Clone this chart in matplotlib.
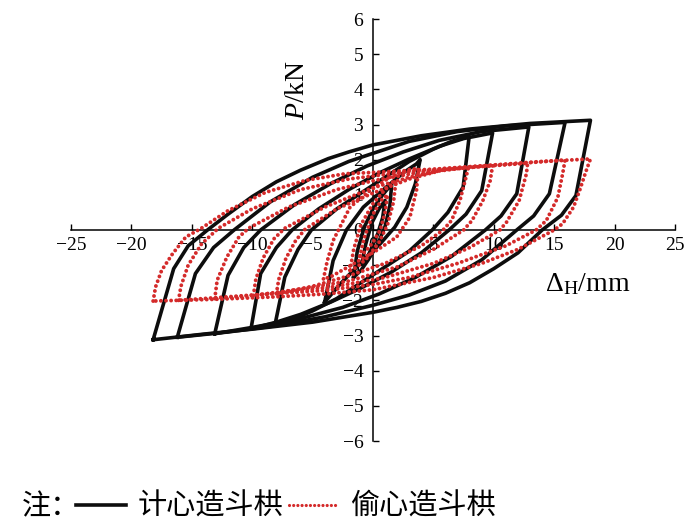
import matplotlib
matplotlib.use('Agg')
import matplotlib.pyplot as plt
from matplotlib.lines import Line2D

# hysteresis loops: (displacement mm, load kN)
# each loop: negative peak -> up to positive peak -> back down to negative peak

# 计心造斗栱 (black, solid)
jx1 = [(-0.93, -0.96), (-0.6, -0.4), (-0.1, 0.2), (0.5, 0.6), (1.0, 0.84),
       (0.8, 0.35), (0.4, -0.1), (-0.1, -0.5), (-0.5, -0.8)]
jx2 = [(-1.6, -1.34), (-1.3, -0.6), (-0.7, 0.1), (0.0, 0.6), (0.8, 1.0), (1.55, 1.31),
       (1.4, 0.7), (1.0, 0.1), (0.4, -0.4), (-0.4, -0.85), (-1.0, -1.15)]
jx4 = [(-4.0, -2.05), (-3.3, -0.87), (-2.2, 0.0), (-0.8, 0.65), (1.1, 1.22), (2.6, 1.65),
       (3.6, 1.88), (3.9, 2.0),
       (3.5, 1.31), (2.8, 0.65), (1.8, 0.08), (0.6, -0.39), (-1.1, -0.96), (-2.7, -1.53)]
jx8 = [(-8.1, -2.67), (-7.3, -1.34), (-6.2, -0.55), (-5.1, 0.0), (-3.0, 0.6), (-1.0, 1.05),
       (1.0, 1.5), (3.0, 1.95), (5.0, 2.3), (6.5, 2.52), (7.96, 2.66),
       (7.46, 1.22), (6.2, 0.5), (4.9, 0.0), (3.0, -0.6), (1.0, -1.05), (-1.0, -1.5),
       (-3.0, -1.95), (-5.0, -2.3), (-6.5, -2.52)]
jx10 = [(-10.1, -2.81), (-9.3, -1.24), (-8.0, -0.5), (-6.7, 0.0), (-4.5, 0.6), (-2.0, 1.15),
        (0.5, 1.62), (3.0, 2.02), (5.5, 2.38), (7.5, 2.6), (9.9, 2.76),
        (9.0, 1.12), (7.7, 0.45), (6.3, 0.0), (4.0, -0.65), (1.5, -1.2), (-1.0, -1.65),
        (-3.5, -2.05), (-6.0, -2.4), (-8.0, -2.62)]
jx13 = [(-13.1, -2.95), (-12.0, -1.29), (-10.7, -0.5), (-9.3, 0.0), (-6.5, 0.72), (-3.5, 1.32),
        (-0.5, 1.82), (2.5, 2.22), (5.5, 2.55), (9.0, 2.8), (12.9, 2.93),
        (11.9, 1.03), (10.6, 0.4), (9.3, 0.0), (6.5, -0.75), (3.5, -1.35), (0.5, -1.82),
        (-2.5, -2.2), (-6.0, -2.52), (-10.0, -2.77)]
jx16 = [(-16.2, -3.05), (-14.7, -1.24), (-13.2, -0.5), (-11.5, 0.0), (-8.5, 0.8), (-5.0, 1.5),
        (-2.0, 1.95), (0.0, 2.18), (3.0, 2.52), (7.0, 2.8), (11.0, 2.96), (15.9, 3.06),
        (14.6, 1.03), (13.3, 0.4), (11.9, 0.0), (9.0, -0.85), (6.0, -1.45), (3.0, -1.85),
        (0.0, -2.14), (-4.0, -2.47), (-8.0, -2.72), (-12.0, -2.9)]
jx18 = [(-18.2, -3.12), (-16.5, -1.1), (-15.3, -0.45), (-13.7, 0.0), (-12.0, 0.45), (-10.0, 0.95),
        (-8.0, 1.37), (-6.0, 1.7), (-3.7, 2.03), (-2.0, 2.22), (0.0, 2.42), (4.0, 2.68),
        (8.0, 2.87), (13.0, 3.03), (18.0, 3.12),
        (16.8, 0.98), (15.6, 0.42), (14.0, 0.0), (12.0, -0.65), (10.0, -1.1), (8.0, -1.5),
        (6.0, -1.8), (4.0, -2.03), (2.0, -2.2), (0.0, -2.34), (-5.0, -2.62), (-10.0, -2.82),
        (-14.0, -2.96)]

# 偷心造斗栱 (red, dotted)
tx1 = [(-1.1, -0.75), (-0.7, -0.2), (0.0, 0.45), (0.7, 0.85), (1.2, 1.0),
       (1.0, 0.5), (0.6, 0.0), (0.0, -0.35), (-0.6, -0.6)]
tx2 = [(-1.9, -1.15), (-1.6, -0.55), (-1.0, 0.15), (0.0, 0.75), (1.0, 1.15), (1.9, 1.4),
       (1.7, 0.8), (1.2, 0.15), (0.5, -0.35), (-0.5, -0.8), (-1.3, -1.05)]
tx4 = [(-4.1, -1.39), (-3.8, -0.9), (-3.3, -0.3), (-1.9, 0.65), (-0.25, 1.12), (1.4, 1.5),
       (3.05, 1.72), (3.75, 1.75),
       (3.6, 1.12), (3.05, 0.36), (1.96, -0.2), (0.3, -0.58), (-1.6, -0.96), (-3.55, -1.34)]
tx8 = [(-8.0, -1.81), (-7.8, -1.4), (-7.2, -0.8), (-6.4, -0.3), (-5.6, 0.03), (-3.0, 0.6),
       (0.0, 1.05), (3.0, 1.45), (5.5, 1.68), (7.9, 1.78),
       (7.7, 1.5), (7.2, 0.84), (6.5, 0.27), (5.8, 0.0), (4.0, -0.45), (1.0, -0.95),
       (-2.0, -1.3), (-5.0, -1.6)]
tx10 = [(-9.9, -1.86), (-9.7, -1.4), (-9.1, -0.8), (-8.2, -0.25), (-7.3, 0.05), (-4.0, 0.65),
        (0.0, 1.2), (3.0, 1.5), (6.0, 1.72), (9.9, 1.83),
        (9.7, 1.4), (9.1, 0.84), (8.2, 0.27), (7.5, 0.0), (5.0, -0.55), (2.0, -1.05),
        (-2.0, -1.45), (-6.0, -1.68)]
tx13 = [(-13.1, -1.95), (-12.9, -1.43), (-12.1, -0.77), (-11.1, -0.2), (-10.3, 0.05), (-7.0, 0.65),
        (-3.0, 1.15), (0.0, 1.4), (4.0, 1.65), (8.0, 1.78), (12.8, 1.9),
        (12.7, 1.6), (12.1, 0.84), (11.05, 0.22), (10.5, 0.0), (8.0, -0.5), (5.0, -0.95),
        (1.0, -1.35), (-3.0, -1.6), (-8.0, -1.8)]
tx16 = [(-16.1, -2.0), (-15.9, -1.6), (-15.3, -1.0), (-14.2, -0.4), (-12.8, 0.05), (-10.0, 0.6),
        (-6.0, 1.15), (-2.0, 1.45), (2.0, 1.62), (6.0, 1.75), (10.0, 1.84), (15.9, 1.99),
        (15.7, 1.6), (15.3, 0.93), (14.35, 0.27), (13.5, 0.0), (11.0, -0.45), (7.0, -0.95),
        (3.0, -1.35), (0.0, -1.55), (-4.0, -1.72), (-10.0, -1.85)]
tx18 = [(-18.2, -2.02), (-18.0, -1.62), (-17.5, -1.15), (-16.6, -0.68), (-15.5, -0.2), (-14.3, 0.03),
        (-12.0, 0.55), (-8.9, 1.07), (-5.6, 1.41), (-2.3, 1.6), (0.2, 1.64), (5.5, 1.74),
        (10.0, 1.85), (14.0, 1.95), (18.0, 2.02),
        (17.6, 1.64), (17.1, 1.12), (16.6, 0.65), (15.7, 0.18), (15.0, 0.0), (12.0, -0.55),
        (9.0, -0.95), (5.0, -1.35), (0.0, -1.7), (-4.0, -1.82), (-8.0, -1.9), (-13.0, -1.97)]

jixin_loops = [jx1, jx2, jx4, jx8, jx10, jx13, jx16, jx18]
touxin_loops = [tx1, tx2, tx4, tx8, tx10, tx13, tx16, tx18]

x_ticks = list(range(-25, 30, 5))
y_ticks = list(range(-6, 7))

black = '#0d0d0d'
red = '#d42a2a'
red_ls = (0, (0.01, 1.3))

plt.rcParams['font.family'] = ['Liberation Serif', 'DejaVu Serif']
plt.rcParams['mathtext.fontset'] = 'custom'
plt.rcParams['mathtext.rm'] = 'Liberation Serif'
plt.rcParams['mathtext.it'] = 'Liberation Serif:italic'
plt.rcParams['mathtext.bf'] = 'Liberation Serif:bold'

fig = plt.figure(figsize=(7, 5.3), dpi=100)
ax = fig.add_axes([71 / 700, (530 - 441) / 530, 604 / 700, 422 / 530])

def closed(pts):
    xs = [p[0] for p in pts] + [pts[0][0]]
    ys = [p[1] for p in pts] + [pts[0][1]]
    return xs, ys

for loop in jixin_loops:
    xs, ys = closed(loop)
    ax.plot(xs, ys, color=black, lw=2.6, solid_joinstyle='round', zorder=2)
for loop in touxin_loops:
    xs, ys = closed(loop)
    ax.plot(xs, ys, color=red, lw=2.8, ls=red_ls, dash_capstyle='round', zorder=3)

ax.set_xlim(-25, 25)
ax.set_ylim(-6, 6)
ax.spines['left'].set_position(('data', 0))
ax.spines['bottom'].set_position(('data', 0))
ax.spines['top'].set_visible(False)
ax.spines['right'].set_visible(False)
for s in ('left', 'bottom'):
    ax.spines[s].set_linewidth(1.1)
    ax.spines[s].set_zorder(1)
ax.set_xticks(x_ticks)
ax.set_yticks(y_ticks)
ax.tick_params(direction='in', length=4.5, width=1.0, labelsize=14)
ax.tick_params(axis='x', pad=5)
ax.tick_params(axis='y', pad=7)
ax.patch.set_alpha(0)

fig.text(297 / 700, 1 - 90 / 530, r'$P$/kN', rotation=90, fontsize=20,
         ha='center', va='center')
fig.text(588 / 700, 1 - 284 / 530, r'$\Delta_{\rm H}$/mm', fontsize=20,
         ha='center', va='center')

# legend at the bottom
cjk = ['Noto Sans CJK SC', 'DejaVu Sans']
fig.text(22 / 700, 1 - 507 / 530, '注：', fontsize=21, family=cjk, va='center', ha='left')
handles = [Line2D([], [], color=black, lw=2.6),
           Line2D([], [], color=red, lw=2.3, ls=(0, (0.01, 1.3)), dash_capstyle='round')]
fig.legend(handles, ['计心造斗栱', '偷心造斗栱'], loc='center left',
           bbox_to_anchor=(76 / 700, 1 - 507 / 530), ncol=2, frameon=False,
           prop={'family': cjk, 'size': 21}, handlelength=1.7, handletextpad=0.4,
           columnspacing=0.2, borderpad=0, borderaxespad=0)

fig.savefig('out.png', dpi=100)
